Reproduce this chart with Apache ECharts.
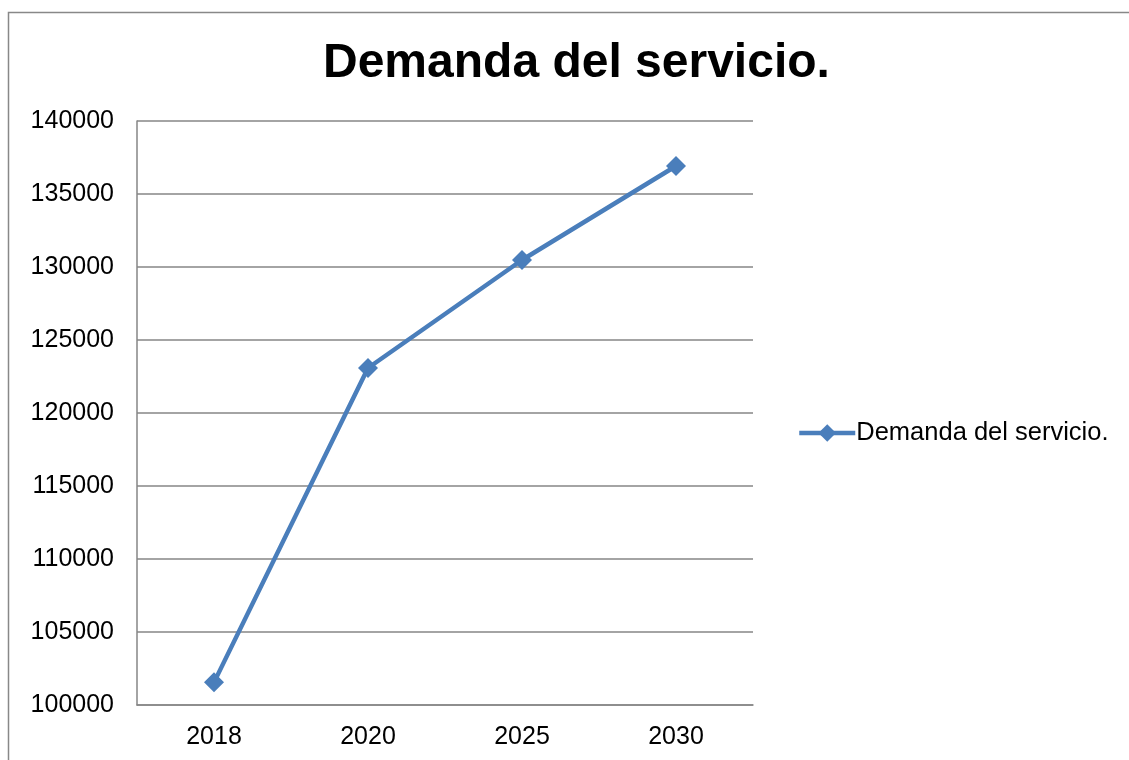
<!DOCTYPE html>
<html>
<head>
<meta charset="utf-8">
<style>
  html, body { margin: 0; padding: 0; background: #fff; }
  #chart { width: 1129px; height: 760px; }
</style>
<script src="https://cdn.jsdelivr.net/npm/echarts@6/dist/echarts.min.js"></script>
</head>
<body>
<div id="chart"></div>
<script>
const years = ['2018', '2020', '2025', '2030'];
const demanda = [101550, 123080, 130480, 136920];
const seriesName = 'Demanda del servicio.';

const chart = echarts.init(document.getElementById('chart'));

chart.setOption({
    animation: false,
    textStyle: { fontFamily: 'Liberation Sans, Arial, sans-serif' },
    graphic: [{
        type: 'rect',
        shape: { x: 8.5, y: 12.5, width: 1300, height: 900 },
        style: { fill: 'none', stroke: '#888', lineWidth: 1.5 },
        silent: true
    }],
    title: {
        text: 'Demanda del servicio.',
        left: 318,
        top: 35,
        textStyle: { fontSize: 48, fontWeight: 'bold', color: '#000' }
    },
    legend: {
        orient: 'vertical',
        left: 792,
        top: 415,
        itemWidth: 56,
        itemHeight: 22,
        itemGap: 4,
        lineStyle: { width: 4.5 },
        textStyle: { fontSize: 25.5, color: '#000', padding: [0, 0, 0, -4] },
        data: [seriesName]
    },
    grid: { left: 137, top: 121, width: 616, height: 584 },
    xAxis: {
        type: 'category',
        data: years,
        boundaryGap: true,
        axisLine: { lineStyle: { color: '#868686', width: 1.5 } },
        axisTick: { show: false },
        axisLabel: { fontSize: 25, color: '#000', margin: 20 }
    },
    yAxis: {
        type: 'value',
        min: 100000,
        max: 140000,
        interval: 5000,
        axisLine: { show: true, lineStyle: { color: '#868686', width: 1.5 } },
        axisTick: { show: false },
        axisLabel: { fontSize: 25, color: '#000', margin: 23, formatter: function (v) { return String(v); } },
        splitLine: { lineStyle: { color: '#868686', width: 1.5 } }
    },
    series: [{
        name: seriesName,
        type: 'line',
        data: demanda,
        symbol: 'diamond',
        symbolSize: 20,
        lineStyle: { color: '#4a7ebb', width: 4.5 },
        itemStyle: { color: '#4a7ebb' }
    }]
});
</script>
</body>
</html>
